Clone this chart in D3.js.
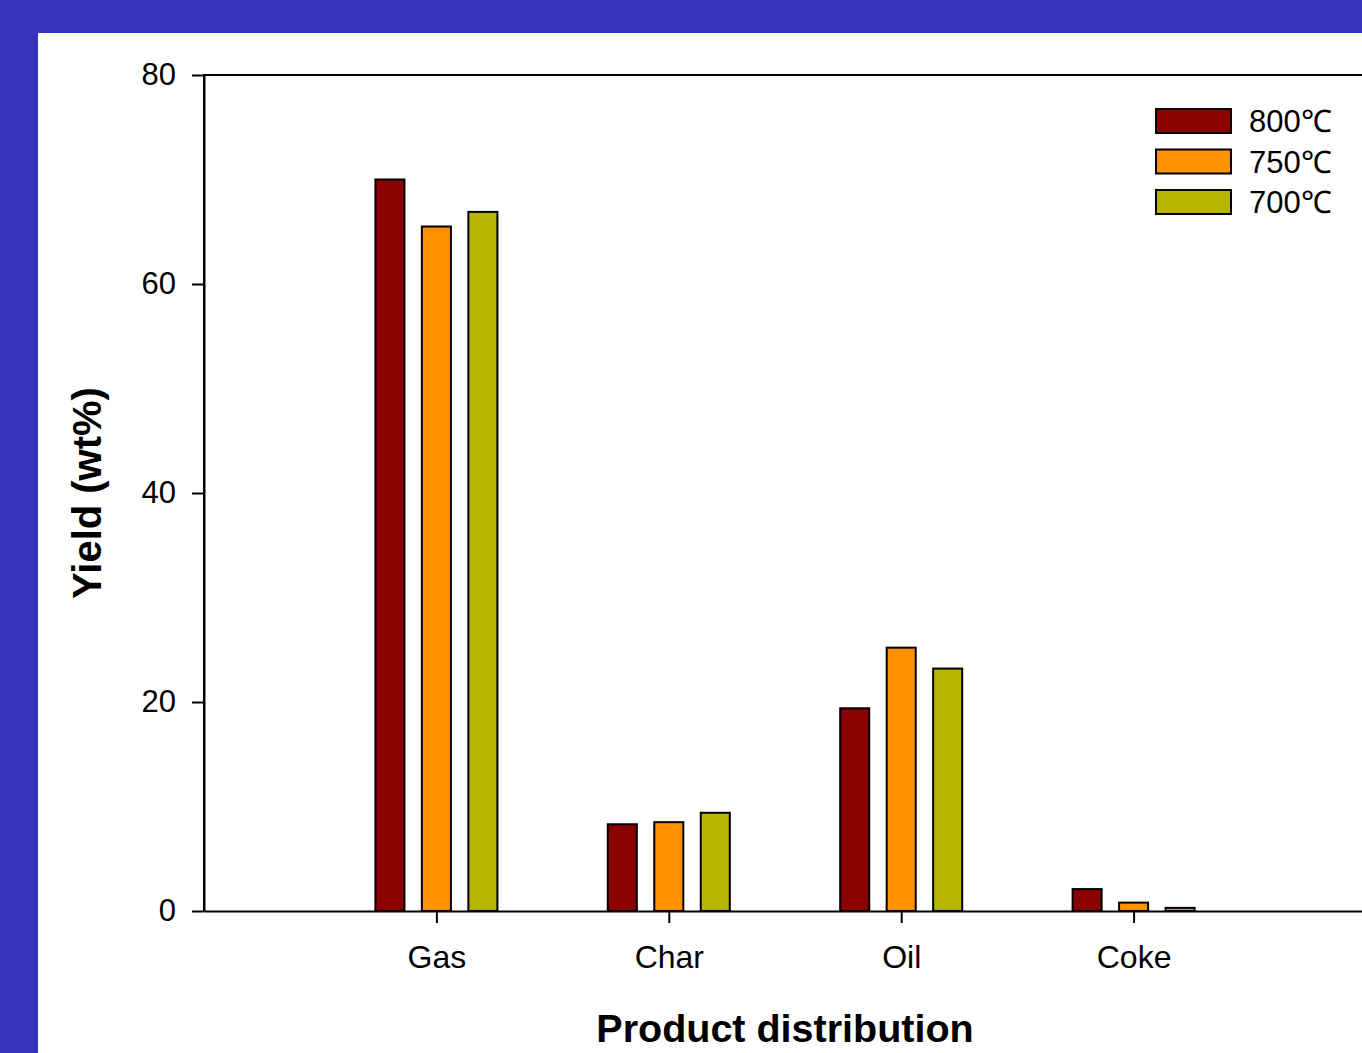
<!DOCTYPE html>
<html>
<head>
<meta charset="utf-8">
<script src="https://cdn.jsdelivr.net/npm/d3@7"></script>
<style>
  html, body { margin: 0; padding: 0; background: #3333bb; overflow: hidden; }
  svg { display: block; }
  text { font-family: "Liberation Sans", Arial, sans-serif; fill: #000; }
</style>
</head>
<body>
<div id="chart"></div>
<script>
// data
const categories = ["Gas", "Char", "Oil", "Coke"];
const seriesNames = ["800℃", "750℃", "700℃"];
const yield800 = [70.0, 8.3, 19.4, 2.1];
const yield750 = [65.5, 8.5, 25.2, 0.8];
const yield700 = [66.9, 9.4, 23.2, 0.3];
const yTicks = [0, 20, 40, 60, 80];

const colors = ["#8b0000", "#ff9100", "#b5b500"];
const series = [yield800, yield750, yield700];

const W = 1362, H = 1053;
const svg = d3.select("#chart").append("svg")
    .attr("width", W)
    .attr("height", H);

// white panel
svg.append("rect")
    .attr("x", 38).attr("y", 33)
    .attr("width", W - 38).attr("height", H - 33)
    .attr("fill", "white");

let plot = {left: 204, right: 1366, top: 75, bottom: 911};

// categories sit at 1..4 on a 0..5 axis
let x = d3.scaleLinear().domain([0, 5]).range([plot.left, plot.right]);
let y = d3.scaleLinear().domain([0, 80]).range([plot.bottom, plot.top]);

let offsets = [-0.2, 0, 0.2];
let barW = 0.125;

// bars
series.forEach((vals, s) => {
    svg.append("g")
        .selectAll("rect")
        .data(vals)
        .enter()
        .append("rect")
        .attr("x", (d, i) => x(i + 1 + offsets[s] - barW / 2))
        .attr("width", x(barW) - x(0))
        .attr("y", d => y(d))
        .attr("height", d => y(0) - y(d))
        .attr("fill", colors[s])
        .attr("stroke", "black")
        .attr("stroke-width", 2);
});

// frame
svg.append("path")
    .attr("d", `M${plot.left},${plot.bottom}V${plot.top}H${plot.right}`)
    .attr("fill", "none")
    .attr("stroke", "black")
    .attr("stroke-width", 2);

// y axis
let yAxis = svg.append("g")
    .attr("transform", `translate(${plot.left},0)`)
    .call(d3.axisLeft(y).tickValues(yTicks).tickSize(12).tickSizeOuter(0).tickPadding(16)
        .tickFormat(d3.format("d")));
yAxis.select(".domain").attr("stroke-width", 2);
yAxis.selectAll(".tick line").attr("stroke-width", 2);
yAxis.selectAll(".tick text")
    .attr("font-size", 31)
    .attr("font-family", "Liberation Sans, Arial, sans-serif")
    .attr("fill", "#000");

// x axis
let xAxis = svg.append("g")
    .attr("transform", `translate(0,${plot.bottom})`)
    .call(d3.axisBottom(x).tickValues([1, 2, 3, 4]).tickSize(12).tickSizeOuter(0).tickPadding(22)
        .tickFormat(d => categories[d - 1]));
xAxis.select(".domain").attr("stroke-width", 2);
xAxis.selectAll(".tick line").attr("stroke-width", 2);
xAxis.selectAll(".tick text")
    .attr("font-size", 32)
    .attr("font-family", "Liberation Sans, Arial, sans-serif")
    .attr("fill", "#000");

// axis titles
svg.append("text")
    .attr("x", 785)
    .attr("y", 1042)
    .attr("text-anchor", "middle")
    .attr("font-size", 39.5)
    .attr("font-weight", "bold")
    .text("Product distribution");

svg.append("text")
    .attr("transform", `translate(101,493) rotate(-90)`)
    .attr("text-anchor", "middle")
    .attr("font-size", 40)
    .attr("font-weight", "bold")
    .text("Yield (wt%)");

// legend
let legend = svg.append("g")
    .attr("transform", "translate(1156,109)");
seriesNames.forEach((name, i) => {
    legend.append("rect")
        .attr("x", 0)
        .attr("y", i * 40.5)
        .attr("width", 75)
        .attr("height", 24)
        .attr("fill", colors[i])
        .attr("stroke", "black")
        .attr("stroke-width", 2);
    legend.append("text")
        .attr("x", 93)
        .attr("y", i * 40.5 + 23)
        .attr("font-size", 31)
        .text(name);
});
</script>
</body>
</html>
